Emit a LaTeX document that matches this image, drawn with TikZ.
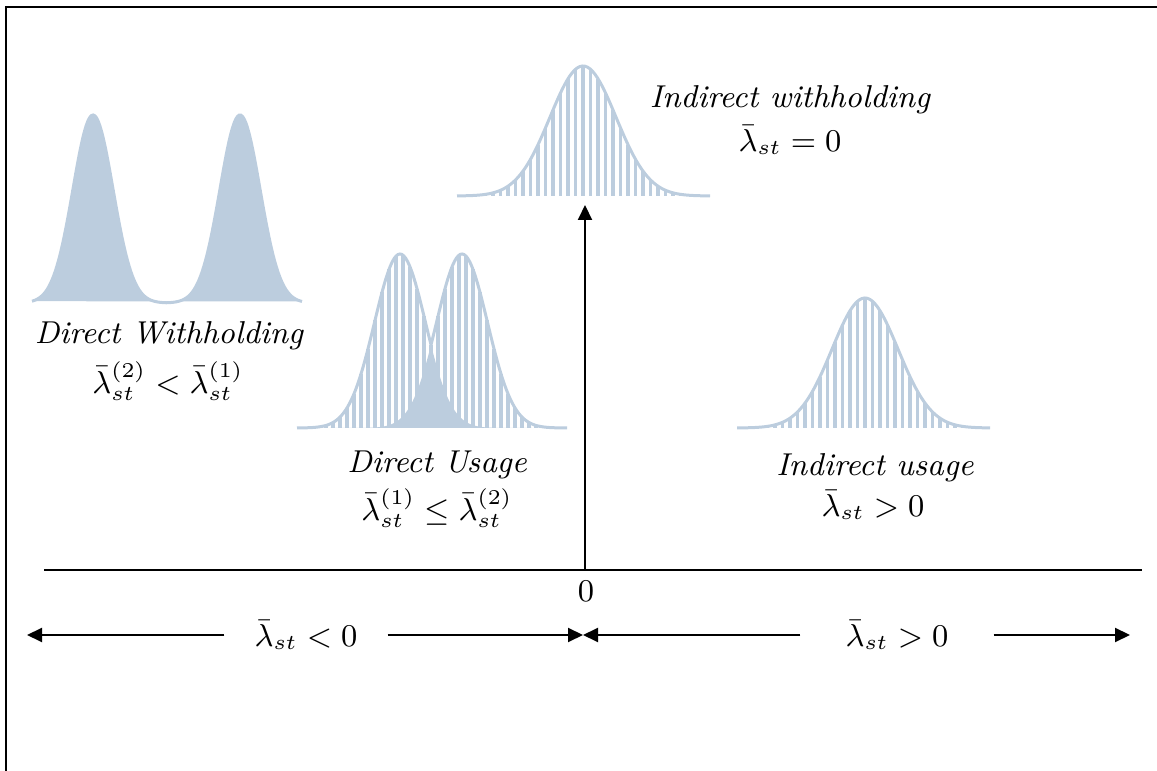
\documentclass[tikz,border=0pt]{standalone}
\usepackage{amsmath}
\usepackage{amssymb}
\usepackage{tikz}
\usetikzlibrary{arrows.meta}

\definecolor{bellblue}{RGB}{188,205,222}

\tikzset{
  bellline/.style={draw=bellblue, line width=0.3mm},
  stripe/.style={draw=bellblue, line width=0.35mm},
  caption/.style={font=\fontsize{9}{11}\selectfont\itshape},
  formula/.style={font=\fontsize{9}{11}\selectfont},
  axisline/.style={line width=0.25mm},
  dirarrow/.style={line width=0.2mm, -{Triangle[length=1.5mm,width=1.4mm]}}
}

\begin{document}
\begin{tikzpicture}[x=0.1mm, y=-0.1mm,
  declare function={bell(\t,\m,\w)=exp(-0.5*((\t-\m)/\w)*((\t-\m)/\w));}]
\useasboundingbox (0,0) rectangle (1157,771);
% frame
\draw[line width=0.28mm] (6,771) -- (6,7) -- (1157,7);

% direct withholding (two separated peaks)
\fill[bellblue] plot[domain=32:302, samples=160] (\x,{303-188*max(bell(\x,93,20),bell(\x,240,20))}) -- cycle;
\draw[bellline] plot[domain=32:302, samples=160] (\x,{303-188*max(bell(\x,93,20),bell(\x,240,20))});

% direct usage (two overlapping peaks)
\fill[bellblue] plot[domain=330:532, samples=100] (\x,{428-174*min(bell(\x,400,25.5),bell(\x,462,25.5))}) -- cycle;
\foreach \k in {0,...,34}
  \draw[stripe] ({312+7*\k},428) -- ({312+7*\k},{428-174*max(bell(312+7*\k,400,25.5),bell(312+7*\k,462,25.5))});
\draw[bellline] plot[domain=297:567, samples=140] (\x,{428-174*max(bell(\x,400,25.5),bell(\x,462,25.5))});

% indirect withholding
\foreach \k in {0,...,26}
  \draw[stripe] ({583+7.5*(\k-13)},196) -- ({583+7.5*(\k-13)},{196-130*bell(583+7.5*(\k-13),583,33)});
\draw[bellline] plot[domain=457:710, samples=100] (\x,{196-130*bell(\x,583,33)});

% indirect usage
\foreach \k in {0,...,26}
  \draw[stripe] ({865+7.5*(\k-13)},428) -- ({865+7.5*(\k-13)},{428-130*bell(865+7.5*(\k-13),865,33)});
\draw[bellline] plot[domain=737:990, samples=100] (\x,{428-130*bell(\x,865,33)});

% labels
\node[caption] (dwtext) at (169,336) {Direct Withholding};
\node[formula] (dwmath) at (168,381) {$\bar{\lambda}_{st}^{(2)} < \bar{\lambda}_{st}^{(1)}$};
\node[caption] (dutext) at (437,465) {Direct Usage};
\node[formula] (dumath) at (437,508) {$\bar{\lambda}_{st}^{(1)} \leq \bar{\lambda}_{st}^{(2)}$};
\node[caption] (iwtext) at (790,100) {Indirect withholding};
\node[formula] (iwmath) at (790,140) {$\bar{\lambda}_{st} = 0$};
\node[caption] (iutext) at (875,468) {Indirect usage};
\node[formula] (iumath) at (873,505) {$\bar{\lambda}_{st} > 0$};

% axis
\coordinate (axl) at (44,570);
\coordinate (axr) at (1142,570);
\coordinate (origin) at (585,570);
\coordinate (topbell) at (585,205);
\draw[axisline] (axl) -- (axr);
\draw[dirarrow] (origin) -- (topbell);
\node[formula] (zero) at (586,591) {$0$};

% sign ranges
\node[formula, inner xsep=2.95mm] (neg) at (306,635) {$\bar{\lambda}_{st} < 0$};
\node[formula, inner xsep=4.45mm] (pos) at (897,635) {$\bar{\lambda}_{st} > 0$};
\coordinate (leftend) at (27,635);
\coordinate (mid) at (583,635);
\coordinate (rightend) at (1130,635);
\draw[dirarrow] (neg) -- (leftend);
\draw[dirarrow] (neg) -- (mid);
\draw[dirarrow] (pos) -- (mid);
\draw[dirarrow] (pos) -- (rightend);
\end{tikzpicture}
\end{document}
